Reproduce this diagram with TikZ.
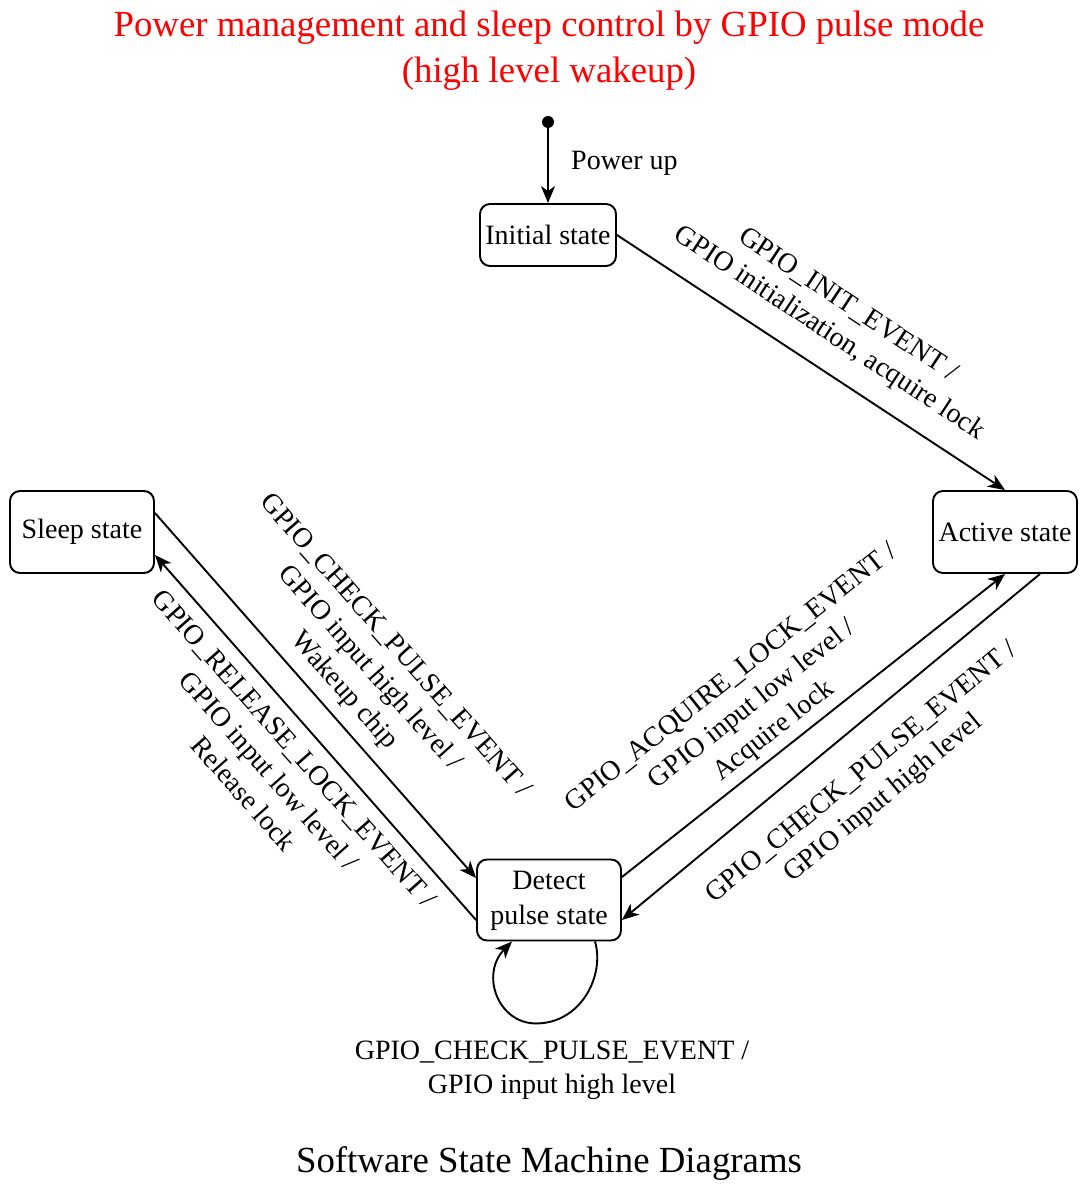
\documentclass[tikz,border=0pt]{standalone}
\usepackage{fontspec}
\setmainfont{Liberation Serif}
\usetikzlibrary{arrows.meta}
\begin{document}
\begin{tikzpicture}[x=1pt,y=-1pt,
  state/.style={draw, line width=1.9pt, rounded corners=10pt, inner sep=0pt, align=center,
    font=\fontsize{28}{35}\selectfont},
  arr/.style={-{Stealth[length=17pt,width=14pt,inset=5pt]}, line width=1.9pt},
  lab/.style={align=center, inner sep=0pt, font=\fontsize{28}{34}\selectfont},
  big/.style={align=center, inner sep=0pt, font=\fontsize{36.8}{46}\selectfont}]
\useasboundingbox (0,0) rectangle (1090,1190);

\node[big, text={rgb,255:red,255;green,0;blue,0}] (title) at (549,50.5)
  {Power management and sleep control by GPIO pulse mode\\(high level wakeup)};
\node[big] (caption) at (549,1164) {Software State Machine Diagrams};

\node[circle, fill, inner sep=0pt, minimum size=12pt] (start) at (548,122) {};
\node[state, minimum width=136pt, minimum height=62pt] (init) at (548,235) {Initial state};
\node[state, minimum width=144pt, minimum height=82pt] (sleep) at (82,532) {Sleep state};
\node[state, minimum width=144pt, minimum height=82pt] (active) at (1005,532) {Active state};
\node[state, minimum width=144pt, minimum height=81pt] (detect) at (549,900)
  {\raisebox{-3.5pt}{\begin{tabular}{@{}c@{}}Detect\\pulse state\end{tabular}}};

\draw[arr] (start) -- (init.north);
\node[lab, anchor=west] (pwr) at (571,163) {Power up};

\draw[arr] (init.east) -- (active.north);
\draw[arr] ([yshift=19pt]sleep.east) -- ([yshift=22pt]detect.west);
\draw[arr] ([yshift=-20pt]detect.west) -- ([yshift=-23pt]sleep.east);
\draw[arr] ([yshift=23pt]detect.east) -- (active.south);
\draw[arr] ([xshift=35pt]active.south) -- ([yshift=-20pt]detect.east);
\draw[arr] ([xshift=46pt]detect.south) .. controls +(10,34) and +(45,0) ..
  ([xshift=-13pt,yshift=-82pt]detect.south) .. controls +(-38,0) and +(-32,33) ..
  ([xshift=-37pt]detect.south);

\node[lab, rotate=-33.4] (l1) at (838,320) {GPIO\_INIT\_EVENT /\\GPIO initialization, acquire lock};
\node[lab, rotate=-48.5] (l2) at (369,669) {GPIO\_CHECK\_PULSE\_EVENT /\\GPIO input high level /\\Wakeup chip};
\node[lab, rotate=-48.5] (l3) at (269,771) {GPIO\_RELEASE\_LOCK\_EVENT /\\GPIO input low level /\\Release lock};
\node[lab, rotate=38.4] (l4) at (753,705) {GPIO\_ACQUIRE\_LOCK\_EVENT /\\GPIO input low level /\\Acquire lock};
\node[lab, rotate=39.6] (l5) at (873,786) {GPIO\_CHECK\_PULSE\_EVENT /\\GPIO input high level};
\node[lab] (l6) at (552,1070.5) {GPIO\_CHECK\_PULSE\_EVENT /\\GPIO input high level};
\end{tikzpicture}
\end{document}
